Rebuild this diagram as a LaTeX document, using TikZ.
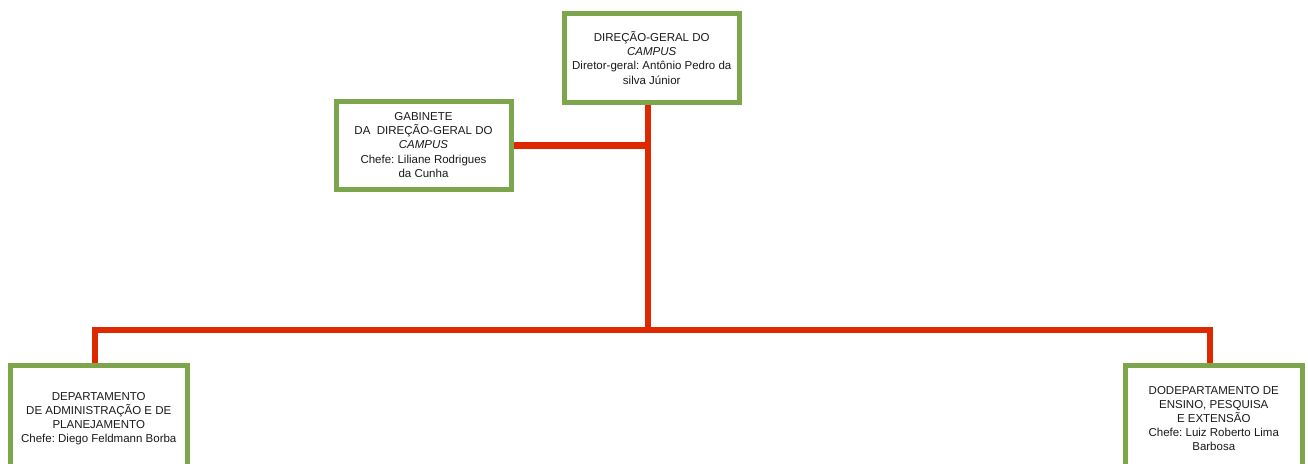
\documentclass[tikz,border=0pt]{standalone}
\usepackage{fontspec}
\setmainfont{Liberation Sans}
\definecolor{boxgreen}{HTML}{7DA54B}
\definecolor{linered}{HTML}{DD2800}
\definecolor{txt}{HTML}{1A1A1A}
\begin{document}
\begin{tikzpicture}[x=1pt,y=-1pt,
  orgbox/.style={draw=boxgreen, line width=5pt, fill=white, rectangle, align=center,
    inner sep=0pt, text=txt, font=\frenchspacing\fontsize{11.5}{14.2}\selectfont},
  link/.style={draw=linered, line width=6.5pt}]
\useasboundingbox (0,0) rectangle (1308,463);
\clip (0,0) rectangle (1308,463);
\fill[white] (0,0) rectangle (1308,463);

\coordinate (j1) at (648,145.5);
\coordinate (j2) at (648,330);

\node[orgbox, minimum width=175.5pt, minimum height=88.5pt] (dg) at (651.75,57.75)
  {DIREÇÃO-GERAL DO\\ \textit{CAMPUS}\\ Diretor-geral: Antônio Pedro da\\ silva Júnior};
\node[orgbox, minimum width=175pt, minimum height=88pt] (gab) at (423.5,145)
  {GABINETE\\ DA\ \ DIREÇÃO-GERAL DO\\ \textit{CAMPUS}\\ Chefe: Liliane Rodrigues\\ da Cunha};
\node[orgbox, minimum width=176.5pt, minimum height=106pt] (dap) at (98.75,418.5)
  {DEPARTAMENTO\\ DE ADMINISTRAÇÃO E DE\\ PLANEJAMENTO\\ Chefe: Diego Feldmann Borba};
\node[orgbox, minimum width=176.5pt, minimum height=106pt] (dep) at (1213.75,418.5)
  {DODEPARTAMENTO DE\\ ENSINO, PESQUISA\\ E EXTENSÃO\\ Chefe: Luiz Roberto Lima\\ Barbosa};

\draw[link] (dg.south -| j1) -- ([yshift=3.25pt]j2);
\draw[link] (gab.east |- j1) -- (j1);
\draw[link] ([xshift=-4pt]dap.north) |- (j2) -| ([xshift=-4pt]dep.north);
\end{tikzpicture}
\end{document}
